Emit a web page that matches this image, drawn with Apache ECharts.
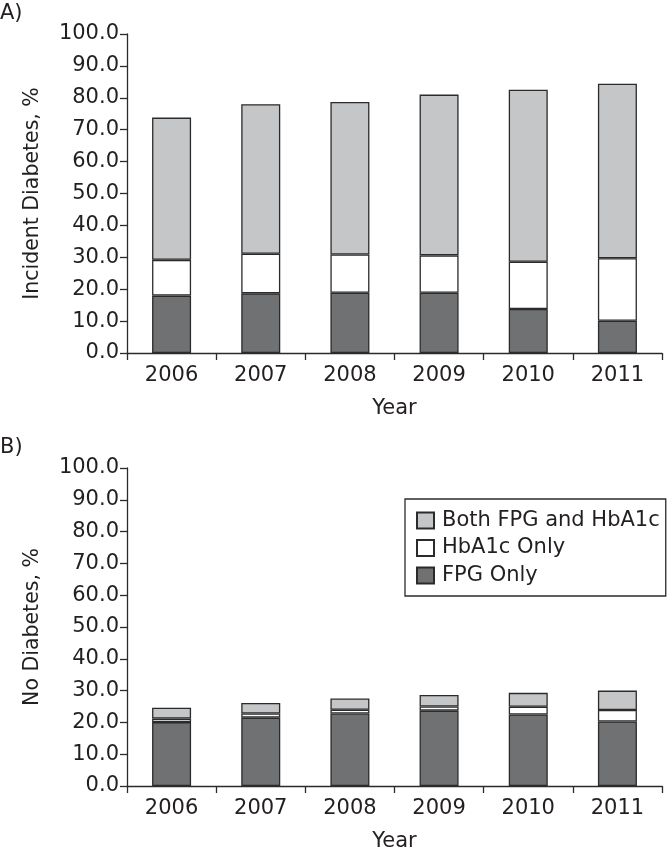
<!DOCTYPE html>
<html><head><meta charset="utf-8">
<script src="https://cdn.jsdelivr.net/npm/echarts@6/dist/echarts.min.js"></script>
<style>html,body{margin:0;padding:0;background:#fff}#c{width:670px;height:853px}</style>
</head><body><div id="c"></div>
<script>
const years = ['2006','2007','2008','2009','2010','2011'];
const yTicks = [0,10,20,30,40,50,60,70,80,90,100];
// Panel A: Incident diabetes (stack bottom-up)
const incFpgOnly   = [18.0, 18.7, 18.9, 18.9, 13.8, 10.1];
const incHba1cOnly = [11.2, 12.4, 12.0, 11.7, 14.8, 19.6];
const incBoth      = [44.6, 46.9, 47.8, 50.4, 53.9, 54.7];
// Panel B: No diabetes
const noFpgOnly    = [20.1, 21.5, 22.8, 23.7, 22.5, 20.3];
const noHba1cOnly  = [1.1, 1.3, 1.2, 1.3, 2.4, 3.6];
const noBoth       = [3.4, 3.3, 3.5, 3.6, 4.4, 6.1];
const seriesNames = ['FPG Only','HbA1c Only','Both FPG and HbA1c'];
const panelLabels = ['A)','B)'];
const yNames = ['Incident Diabetes, %','No Diabetes, %'];
const xName = 'Year';

const FONT = 'DejaVu Sans';
const TXT = '#231f20';
const colors = ['#707173','#ffffff','#c5c6c8'];
const chart = echarts.init(document.getElementById('c'), null, {renderer:'canvas'});

function xAxis(i){
  return {
    type:'category', gridIndex:i, data:years, boundaryGap:true,
    axisLine:{show:true,lineStyle:{color:'#2b2b2b',width:1.3}},
    axisTick:{show:true,length:7,inside:false,lineStyle:{color:'#2b2b2b',width:1.3}},
    axisLabel:{color:TXT,fontFamily:FONT,fontSize:21,margin:12},
    name:xName, nameLocation:'middle', nameGap:45,
    nameTextStyle:{color:TXT,fontFamily:FONT,fontSize:21}
  };
}
function yAxis(i){
  return {
    type:'value', gridIndex:i, min:yTicks[0], max:yTicks[yTicks.length-1], interval:yTicks[1]-yTicks[0],
    axisLine:{show:true,lineStyle:{color:'#2b2b2b',width:1.3}},
    axisTick:{show:true,length:7,lineStyle:{color:'#2b2b2b',width:1.3}},
    splitLine:{show:false},
    axisLabel:{color:TXT,fontFamily:FONT,fontSize:21,margin:8,formatter:v=>v.toFixed(1)},
    name:yNames[i], nameLocation:'middle', nameGap:84, nameRotate:90,
    nameTextStyle:{color:TXT,fontFamily:FONT,fontSize:20.5}
  };
}
function bar(i, k, data){
  return {
    type:'bar', name:seriesNames[k], xAxisIndex:i, yAxisIndex:i, stack:'s'+i,
    data:data, barWidth:39,
    itemStyle:{color:colors[k],borderColor:'#2b2b2b',borderWidth:1.3},
    emphasis:{disabled:true}, animation:false
  };
}
chart.setOption({
  animation:false,
  textStyle:{fontFamily:FONT},
  title:[
    {text:panelLabels[0],left:0,top:3,textStyle:{color:TXT,fontFamily:FONT,fontSize:21,fontWeight:'normal'},padding:0},
    {text:panelLabels[1],left:0,top:437,textStyle:{color:TXT,fontFamily:FONT,fontSize:21,fontWeight:'normal'},padding:0}
  ],
  grid:[
    {left:127,right:8,top:34,height:319},
    {left:127,right:8,top:468,height:319}
  ],
  xAxis:[xAxis(0),xAxis(1)],
  yAxis:[yAxis(0),yAxis(1)],
  legend:{
    data:[seriesNames[2],seriesNames[1],seriesNames[0]],
    orient:'vertical', left:405, top:499,
    padding:[11,6,10,11], itemGap:6.5, itemWidth:17, itemHeight:16,
    borderColor:'#2b2b2b', borderWidth:1.3, borderRadius:0,
    icon:'rect',
    textStyle:{color:TXT,fontFamily:FONT,fontSize:21,padding:[0,0,0,3]},
    selectedMode:false
  },
  series:[
    bar(0,0,incFpgOnly), bar(0,1,incHba1cOnly), bar(0,2,incBoth),
    bar(1,0,noFpgOnly), bar(1,1,noHba1cOnly), bar(1,2,noBoth)
  ]
});
</script></body></html>
